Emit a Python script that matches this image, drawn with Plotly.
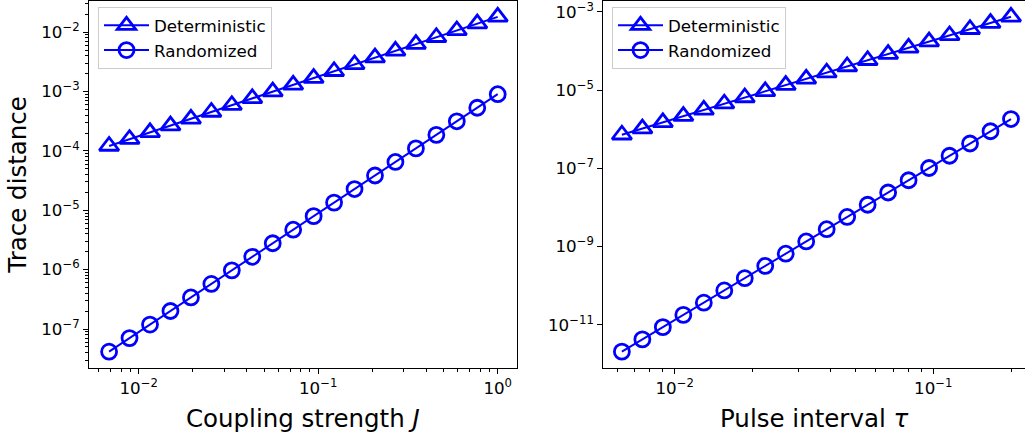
import plotly.graph_objects as go

# ---------------- data ----------------
coupling_J = [0.00684, 0.00889, 0.01156, 0.01503, 0.01954, 0.02540, 0.03302,
              0.04292, 0.05580, 0.07254, 0.09430, 0.12259, 0.15937, 0.20718,
              0.26933, 0.35013, 0.45517, 0.59172, 0.76923, 1.0]
det_J = [1.211e-4, 1.576e-4, 2.051e-4, 2.669e-4, 3.475e-4, 4.523e-4, 5.888e-4,
         7.664e-4, 9.977e-4, 1.299e-3, 1.690e-3, 2.200e-3, 2.864e-3, 3.728e-3,
         4.853e-3, 6.317e-3, 8.222e-3, 1.070e-2, 1.393e-2, 1.813e-2]
rand_J = [4.150e-8, 7.020e-8, 1.187e-7, 2.009e-7, 3.399e-7, 5.748e-7, 9.723e-7,
          1.645e-6, 2.782e-6, 4.706e-6, 7.962e-6, 1.347e-5, 2.278e-5, 3.854e-5,
          6.521e-5, 1.103e-4, 1.866e-4, 3.157e-4, 5.340e-4, 9.031e-4]

pulse_tau = [0.00625, 0.0075, 0.009, 0.0108, 0.01296, 0.015552, 0.018662,
             0.022395, 0.026874, 0.032249, 0.038698, 0.046438, 0.055726,
             0.066871, 0.080245, 0.096294, 0.115553, 0.138664, 0.166397, 0.199676]
det_tau = [7.194e-7, 1.037e-6, 1.494e-6, 2.154e-6, 3.103e-6, 4.472e-6, 6.446e-6,
           9.288e-6, 1.339e-5, 1.929e-5, 2.780e-5, 4.006e-5, 5.773e-5, 8.320e-5,
           1.199e-4, 1.728e-4, 2.490e-4, 3.588e-4, 5.172e-4, 7.453e-4]
rand_tau = [2.042e-12, 4.199e-12, 8.633e-12, 1.776e-11, 3.650e-11, 7.508e-11,
            1.544e-10, 3.175e-10, 6.530e-10, 1.343e-9, 2.761e-9, 5.677e-9,
            1.167e-8, 2.401e-8, 4.936e-8, 1.015e-7, 2.087e-7, 4.292e-7,
            8.827e-7, 1.815e-6]

series_names = ["Deterministic", "Randomized"]

x1_tickvals = [1e-2, 1e-1, 1e0]
x1_ticktext = ["10<sup>−2</sup>", "10<sup>−1</sup>", "10<sup>0</sup>"]
y1_tickvals = [1e-7, 1e-6, 1e-5, 1e-4, 1e-3, 1e-2]
y1_ticktext = ["10<sup>−7</sup>", "10<sup>−6</sup>", "10<sup>−5</sup>",
               "10<sup>−4</sup>", "10<sup>−3</sup>", "10<sup>−2</sup>"]
x2_tickvals = [1e-2, 1e-1]
x2_ticktext = ["10<sup>−2</sup>", "10<sup>−1</sup>"]
y2_tickvals = [1e-11, 1e-9, 1e-7, 1e-5, 1e-3]
y2_ticktext = ["10<sup>−11</sup>", "10<sup>−9</sup>", "10<sup>−7</sup>",
               "10<sup>−5</sup>", "10<sup>−3</sup>"]

x1_title = "Coupling strength <i>J</i>"
x2_title = "Pulse interval <i>τ</i>"
y_title = "Trace distance"


def minor_vals(lo_exp, hi_exp):
    vals = []
    for e in range(lo_exp, hi_exp + 1):
        for m in range(2, 10):
            vals.append(m * 10.0 ** e)
    return vals


BLUE = "#0000ff"
FONT = "DejaVu Sans"
TICKFONT = dict(family=FONT, size=16.7, color="black")

fig = go.Figure()

def add_pair(x, ydet, yrand, xa, ya, leg):
    fig.add_trace(go.Scatter(
        x=x, y=ydet, name=series_names[0], mode="lines+markers",
        xaxis=xa, yaxis=ya, legend=leg,
        line=dict(color=BLUE, width=2),
        marker=dict(symbol="triangle-up-open", size=17, color=BLUE,
                    line=dict(color=BLUE, width=2.8))))
    fig.add_trace(go.Scatter(
        x=x, y=yrand, name=series_names[1], mode="lines+markers",
        xaxis=xa, yaxis=ya, legend=leg,
        line=dict(color=BLUE, width=2),
        marker=dict(symbol="circle-open", size=15, color=BLUE,
                    line=dict(color=BLUE, width=2.8))))

add_pair(coupling_J, det_J, rand_J, "x", "y", "legend")
add_pair(pulse_tau, det_tau, rand_tau, "x2", "y2", "legend2")

W, H = 1025, 443
ydom = [1 - 368.3 / H, 1 - 0.5 / H]

common = dict(type="log", showgrid=False, zeroline=False, showline=True,
              linecolor="black", linewidth=1.1, ticks="outside", ticklen=5,
              tickwidth=1.1, tickcolor="black", tickfont=TICKFONT,
              automargin=False, ticklabeloverflow="allow")

fig.update_layout(
    width=W, height=H, autosize=False,
    margin=dict(l=0, r=0, t=0, b=0, autoexpand=False),
    paper_bgcolor="white", plot_bgcolor="white",
    font=dict(family=FONT, color="black"),
    xaxis=dict(**common, domain=[89 / W, 516.7 / W], anchor="y",
               range=[-2.2769, 0.1058], mirror=True,
               tickvals=x1_tickvals, ticktext=x1_ticktext,
               minor=dict(ticks="outside", ticklen=3, tickwidth=0.9,
                          tickcolor="black", tickvals=minor_vals(-3, 0)),
               title=dict(text=x1_title, font=dict(family=FONT, size=24.5),
                          standoff=12)),
    yaxis=dict(**common, domain=ydom, anchor="x",
               range=[-7.662, -1.466], mirror=True,
               tickvals=y1_tickvals, ticktext=y1_ticktext,
               minor=dict(ticks="outside", ticklen=3, tickwidth=0.9,
                          tickcolor="black", tickvals=minor_vals(-8, -2)),
               title=dict(text=y_title, font=dict(family=FONT, size=24.5),
                          standoff=7)),
    xaxis2=dict(**common, domain=[603.3 / W, 1.0], anchor="y2",
                range=[-2.276, -0.6455], mirror=True,
                tickvals=x2_tickvals, ticktext=x2_ticktext,
                minor=dict(ticks="outside", ticklen=3, tickwidth=0.9,
                           tickcolor="black", tickvals=minor_vals(-3, -1)),
                title=dict(text=x2_title, font=dict(family=FONT, size=24.5),
                           standoff=12)),
    yaxis2=dict(**common, domain=ydom, anchor="x2",
                range=[-12.116, -2.71], mirror=False,
                tickvals=y2_tickvals, ticktext=y2_ticktext),
    legend=dict(x=98 / W, y=1 - 7 / H, xanchor="left", yanchor="top",
                bgcolor="rgba(255,255,255,0.8)", bordercolor="#cccccc",
                borderwidth=1, font=dict(family=FONT, size=16.7, color="black"),
                itemwidth=45, tracegroupgap=0),
    legend2=dict(x=612 / W, y=1 - 7 / H, xanchor="left", yanchor="top",
                 bgcolor="rgba(255,255,255,0.8)", bordercolor="#cccccc",
                 borderwidth=1, font=dict(family=FONT, size=16.7, color="black"),
                 itemwidth=45, tracegroupgap=0),
)

fig.write_html(
    "out.html",
    config={"displayModeBar": False},
    post_script="document.body.style.margin='0';document.body.style.overflow='hidden';",
)
